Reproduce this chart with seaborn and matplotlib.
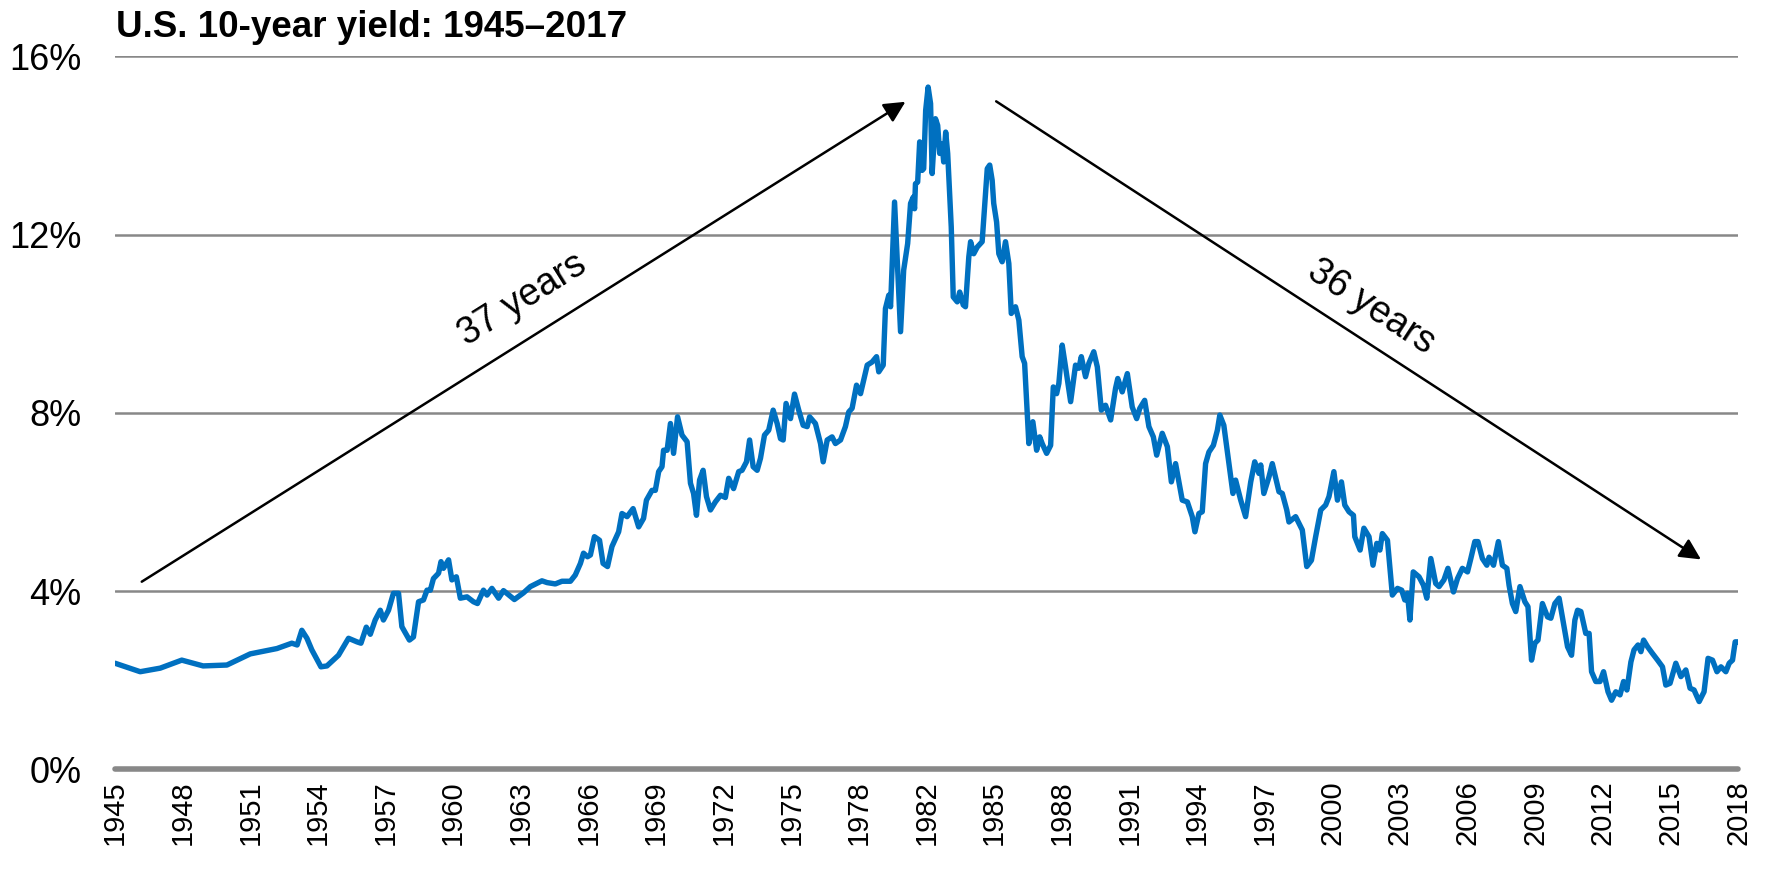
import matplotlib
matplotlib.use("Agg")
import matplotlib.pyplot as plt
import numpy as np
import seaborn as sns

# chart time (decimal years on the chart's own scale) and the 10-year yield in %
years = [
    1945.00, 1946.13, 1947.03, 1948.00, 1948.96, 1950.03, 1951.08, 1952.28, 1952.95, 1953.19,
    1953.40, 1953.63, 1953.85, 1954.26, 1954.53, 1955.05, 1955.50, 1955.88, 1956.06, 1956.30,
    1956.48, 1956.70, 1956.93, 1957.07, 1957.30, 1957.52, 1957.75, 1957.90, 1958.24, 1958.42,
    1958.65, 1958.87, 1959.03, 1959.18, 1959.32, 1959.55, 1959.66, 1959.77, 1960.00, 1960.15,
    1960.35, 1960.53, 1960.83, 1961.12, 1961.30, 1961.57, 1961.73, 1961.95, 1962.25, 1962.47,
    1962.96, 1963.37, 1963.68, 1964.20, 1964.43, 1964.80, 1965.10, 1965.48, 1965.70, 1965.93,
    1966.07, 1966.25, 1966.38, 1966.56, 1966.79, 1966.95, 1967.15, 1967.35, 1967.65, 1967.80,
    1968.03, 1968.30, 1968.55, 1968.77, 1968.90, 1969.15, 1969.30, 1969.45, 1969.60, 1969.67,
    1969.83, 1969.98, 1970.12, 1970.30, 1970.50, 1970.73, 1970.88, 1971.02, 1971.15, 1971.29,
    1971.45, 1971.60, 1971.78, 1972.00, 1972.23, 1972.45, 1972.60, 1972.82, 1973.05, 1973.20,
    1973.40, 1973.54, 1973.70, 1973.88, 1974.03, 1974.21, 1974.40, 1974.60, 1974.78, 1974.93,
    1975.05, 1975.18, 1975.38, 1975.56, 1975.75, 1975.95, 1976.13, 1976.24, 1976.50, 1976.73,
    1976.85, 1977.03, 1977.25, 1977.40, 1977.63, 1977.85, 1978.00, 1978.15, 1978.35, 1978.53,
    1978.83, 1979.05, 1979.25, 1979.35, 1979.55, 1979.65, 1979.80, 1979.88, 1980.06, 1980.18,
    1980.33, 1980.47, 1980.65, 1980.78, 1980.90, 1980.96, 1981.00, 1981.10, 1981.19, 1981.30,
    1981.37, 1981.46, 1981.57, 1981.68, 1981.75, 1981.90, 1982.00, 1982.09, 1982.20, 1982.27,
    1982.36, 1982.45, 1982.61, 1982.70, 1982.88, 1982.99, 1983.15, 1983.25, 1983.40, 1983.48,
    1983.62, 1983.78, 1984.00, 1984.11, 1984.23, 1984.34, 1984.45, 1984.52, 1984.65, 1984.75,
    1984.90, 1985.05, 1985.20, 1985.31, 1985.50, 1985.65, 1985.80, 1985.91, 1986.10, 1986.28,
    1986.45, 1986.59, 1986.70, 1986.90, 1987.08, 1987.20, 1987.35, 1987.45, 1987.60, 1987.75,
    1987.98, 1988.20, 1988.35, 1988.46, 1988.65, 1988.80, 1989.02, 1989.18, 1989.36, 1989.55,
    1989.78, 1990.00, 1990.10, 1990.30, 1990.53, 1990.75, 1990.95, 1991.09, 1991.31, 1991.50,
    1991.70, 1991.85, 1992.10, 1992.33, 1992.51, 1992.70, 1993.00, 1993.23, 1993.45, 1993.57,
    1993.75, 1993.90, 1994.05, 1994.20, 1994.40, 1994.58, 1994.69, 1994.87, 1995.03, 1995.28,
    1995.40, 1995.63, 1995.85, 1996.08, 1996.26, 1996.45, 1996.53, 1996.67, 1996.90, 1997.05,
    1997.35, 1997.50, 1997.70, 1997.80, 1998.10, 1998.40, 1998.60, 1998.81, 1999.00, 1999.23,
    1999.45, 1999.60, 1999.82, 1999.98, 2000.16, 2000.31, 2000.50, 2000.70, 2000.76, 2001.00,
    2001.17, 2001.40, 2001.58, 2001.75, 2001.89, 2002.00, 2002.23, 2002.45, 2002.68, 2002.87,
    2003.01, 2003.13, 2003.24, 2003.39, 2003.65, 2003.85, 2004.00, 2004.18, 2004.40, 2004.55,
    2004.77, 2004.95, 2005.20, 2005.38, 2005.60, 2005.83, 2005.98, 2006.16, 2006.30, 2006.50,
    2006.70, 2006.80, 2007.00, 2007.22, 2007.40, 2007.60, 2007.70, 2007.85, 2008.00, 2008.19,
    2008.41, 2008.55, 2008.71, 2008.86, 2009.00, 2009.20, 2009.43, 2009.58, 2009.76, 2009.95,
    2010.15, 2010.33, 2010.51, 2010.66, 2010.78, 2010.93, 2011.15, 2011.30, 2011.41, 2011.60,
    2011.79, 2011.95, 2012.15, 2012.31, 2012.50, 2012.69, 2012.85, 2013.00, 2013.18, 2013.32,
    2013.50, 2013.63, 2013.75, 2013.93, 2014.15, 2014.38, 2014.60, 2014.75, 2014.94, 2015.20,
    2015.43, 2015.65, 2015.84, 2016.02, 2016.25, 2016.47, 2016.65, 2016.85, 2017.05, 2017.23,
    2017.45, 2017.60, 2017.75, 2017.87, 2018.00,
]
yields = [
    2.38, 2.19, 2.27, 2.45, 2.32, 2.34, 2.59, 2.71, 2.83, 2.79,
    3.12, 2.94, 2.68, 2.30, 2.32, 2.56, 2.94, 2.86, 2.83, 3.19,
    3.03, 3.35, 3.57, 3.35, 3.57, 3.95, 3.95, 3.20, 2.90, 2.97,
    3.76, 3.80, 4.02, 4.02, 4.28, 4.40, 4.66, 4.51, 4.70, 4.25,
    4.32, 3.84, 3.87, 3.76, 3.72, 4.02, 3.91, 4.06, 3.84, 4.01,
    3.81, 3.96, 4.10, 4.23, 4.19, 4.16, 4.22, 4.22, 4.36, 4.62,
    4.85, 4.77, 4.81, 5.22, 5.14, 4.62, 4.55, 5.00, 5.33, 5.74,
    5.67, 5.85, 5.44, 5.63, 6.04, 6.26, 6.26, 6.68, 6.79, 7.16,
    7.16, 7.76, 7.09, 7.91, 7.50, 7.35, 6.42, 6.19, 5.70, 6.49,
    6.71, 6.12, 5.82, 6.00, 6.15, 6.10, 6.53, 6.30, 6.68, 6.71,
    6.90, 7.39, 6.79, 6.71, 6.98, 7.50, 7.61, 8.06, 7.76, 7.42,
    7.39, 8.21, 7.87, 8.42, 8.06, 7.72, 7.69, 7.91, 7.76, 7.31,
    6.90, 7.39, 7.46, 7.31, 7.39, 7.69, 8.02, 8.10, 8.62, 8.43,
    9.07, 9.14, 9.26, 8.92, 9.07, 10.34, 10.64, 10.38, 12.73, 11.42,
    9.82, 11.20, 11.80, 12.70, 12.84, 12.58, 13.14, 13.18, 14.08, 13.44,
    13.48, 14.79, 15.31, 14.94, 13.37, 14.60, 14.45, 13.82, 14.04, 13.63,
    14.30, 13.82, 12.17, 10.60, 10.49, 10.71, 10.42, 10.38, 11.50, 11.84,
    11.57, 11.72, 11.84, 12.62, 13.48, 13.56, 13.22, 12.70, 12.28, 11.57,
    11.39, 11.84, 11.35, 10.23, 10.38, 10.08, 9.26, 9.11, 7.31, 7.80,
    7.16, 7.46, 7.31, 7.09, 7.27, 8.58, 8.43, 8.66, 9.52, 9.03,
    8.25, 9.07, 9.00, 9.26, 8.81, 9.11, 9.37, 9.03, 8.06, 8.17,
    7.84, 8.55, 8.77, 8.47, 8.88, 8.13, 7.87, 8.10, 8.28, 7.69,
    7.46, 7.05, 7.54, 7.24, 6.45, 6.86, 6.04, 6.00, 5.67, 5.33,
    5.74, 5.78, 6.86, 7.12, 7.27, 7.61, 7.95, 7.72, 7.12, 6.19,
    6.49, 6.04, 5.67, 6.45, 6.90, 6.64, 6.83, 6.19, 6.56, 6.86,
    6.23, 6.19, 5.82, 5.55, 5.67, 5.37, 4.55, 4.69, 5.22, 5.82,
    5.93, 6.12, 6.68, 6.04, 6.45, 5.93, 5.78, 5.70, 5.22, 4.92,
    5.41, 5.22, 4.58, 5.07, 4.92, 5.29, 5.14, 3.91, 4.06, 4.02,
    3.80, 3.95, 3.35, 4.43, 4.32, 4.13, 3.84, 4.73, 4.17, 4.10,
    4.25, 4.51, 3.98, 4.28, 4.51, 4.43, 4.73, 5.11, 5.11, 4.73,
    4.58, 4.76, 4.58, 5.11, 4.58, 4.51, 4.13, 3.72, 3.54, 4.10,
    3.76, 3.65, 2.45, 2.83, 2.90, 3.72, 3.42, 3.39, 3.72, 3.84,
    3.27, 2.75, 2.56, 3.35, 3.57, 3.54, 3.05, 3.05, 2.19, 1.97,
    1.97, 2.19, 1.74, 1.55, 1.74, 1.67, 1.97, 1.78, 2.41, 2.68,
    2.79, 2.64, 2.90, 2.75, 2.60, 2.45, 2.30, 1.89, 1.93, 2.38,
    2.08, 2.23, 1.82, 1.78, 1.52, 1.74, 2.49, 2.45, 2.19, 2.30,
    2.19, 2.38, 2.45, 2.86, 2.86,
]

x_labels = ["1945", "1948", "1951", "1954", "1957", "1960", "1963", "1966", "1969",
            "1972", "1975", "1978", "1982", "1985", "1988", "1991", "1994", "1997",
            "2000", "2003", "2006", "2009", "2012", "2015", "2018"]
y_ticks = [0, 4, 8, 12, 16]
y_labels = ["0%", "4%", "8%", "12%", "16%"]

sns.set_style("white")
plt.rcParams["font.family"] = ["Liberation Sans", "DejaVu Sans"]
plt.rcParams["text.color"] = "black"
plt.rcParams["xtick.color"] = "black"
plt.rcParams["ytick.color"] = "black"

fig = plt.figure(figsize=(17.73, 8.76), dpi=100)
ax = fig.add_axes([0.0649, 0.1218, 0.9154, 0.8139])

for yv in y_ticks[1:]:
    ax.axhline(yv, color="#888888", lw=1.8, zorder=1)
ax.axhline(0, color="#888888", lw=4, zorder=1, clip_on=False)

sns.lineplot(x=years, y=yields, ax=ax, color="#0070C0", lw=3.9, zorder=3)

ax.set_xlim(years[0], years[-1])
ax.set_ylim(0, 16)
ax.set_xticks(np.linspace(years[0], years[-1], len(x_labels)))
ax.set_xticklabels(x_labels, rotation=90, fontsize=21)
ax.set_yticks(y_ticks)
ax.set_yticklabels(y_labels, fontsize=26)
ax.tick_params(axis="x", length=0, pad=8)
ax.tick_params(axis="y", length=0, pad=24)
for s in ax.spines.values():
    s.set_visible(False)

# arrows with labels
arr = dict(arrowstyle="-|>", color="black", lw=1.8, mutation_scale=32, shrinkA=0, shrinkB=0)
ax.annotate("", xy=(1980.55, 14.98), xytext=(1946.20, 4.21), arrowprops=arr, zorder=4)
ax.annotate("", xy=(2016.33, 4.71), xytext=(1984.63, 14.99), arrowprops=arr, zorder=4)
ax.text(1963.32, 10.53, "37 years", rotation=32, fontsize=27, ha="center", va="center")
ax.text(2001.48, 10.37, "36 years", rotation=-33, fontsize=27, ha="center", va="center")

fig.text(0.0654, 0.958, "U.S. 10-year yield: 1945\u20132017", fontsize=26.5,
         fontweight="bold", ha="left", va="baseline")

fig.savefig("out.png", dpi=100)
